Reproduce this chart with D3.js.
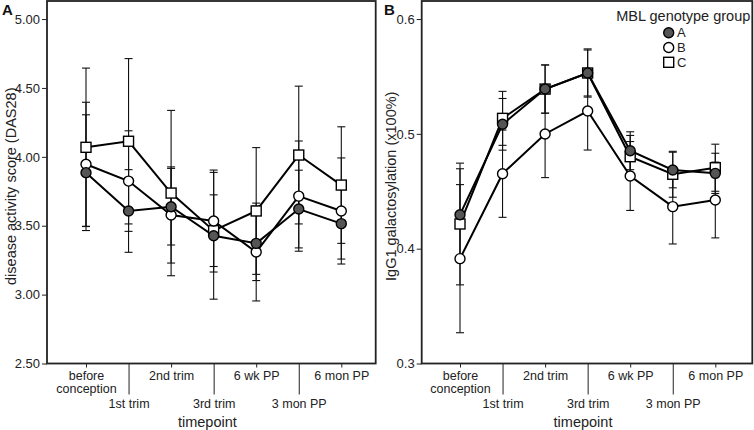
<!DOCTYPE html>
<html>
<head>
<meta charset="utf-8">
<script src="https://cdn.jsdelivr.net/npm/d3@7"></script>
<style>
  html, body { margin: 0; padding: 0; background: #fff; }
  svg { display: block; font-family: "Liberation Sans", Arial, Helvetica, sans-serif; }
</style>
</head>
<body>
<svg id="chart" width="754" height="430"></svg>
<script>
// ---- Data ----
const timepoints = ["before conception", "1st trim", "2nd trim", "3rd trim", "6 wk PP", "3 mon PP", "6 mon PP"];
const groups = ["A", "B", "C"];

// Panel A: disease activity score (DAS28)
const dasA = [3.885, 3.607, 3.638, 3.427, 3.372, 3.621, 3.515];
const dasB = [3.946, 3.824, 3.578, 3.534, 3.309, 3.715, 3.607];
const dasC = [4.069, 4.113, 3.737, 3.464, 3.607, 4.013, 3.795];
const dasErrA = [0.42, 0.30, 0.278, 0.46, 0.27, 0.282, 0.257];
const dasErrB = [0.45, 0.365, 0.349, 0.37, 0.355, 0.40, 0.385];
const dasErrC = [0.575, 0.60, 0.60, 0.26, 0.46, 0.50, 0.423];
const dasTicks = [2.5, 3.0, 3.5, 4.0, 4.5, 5.0];

// Panel B: IgG1 galactosylation
const galA = [0.4296, 0.5083, 0.5390, 0.5530, 0.4853, 0.4685, 0.4656];
const galB = [0.3913, 0.4653, 0.4999, 0.5199, 0.4633, 0.4366, 0.4424];
const galC = [0.4215, 0.5135, 0.5390, 0.5530, 0.4801, 0.4648, 0.4705];
const galErrA = [0.040, 0.0225, 0.021, 0.020, 0.0165, 0.0155, 0.0175];
const galErrB = [0.0645, 0.038, 0.038, 0.034, 0.030, 0.0325, 0.033];
const galErrC = [0.053, 0.0235, 0.021, 0.021, 0.0185, 0.020, 0.0205];
const galTicks = [0.3, 0.4, 0.5, 0.6];

// ---- Drawing ----
const svg = d3.select("#chart");
const FILL = { A: "#555555", B: "#ffffff", C: "#ffffff" };
const SHAPE = { A: "circle", B: "circle", C: "square" };

function drawMarker(g, shape, cx, cy, fill) {
  if (shape === "circle") {
    g.append("circle").attr("cx", cx).attr("cy", cy).attr("r", 5)
      .attr("fill", fill).attr("stroke", "#000").attr("stroke-width", 1.4);
  } else {
    g.append("rect").attr("x", cx - 5).attr("y", cy - 5).attr("width", 10).attr("height", 10)
      .attr("fill", fill).attr("stroke", "#000").attr("stroke-width", 1.4);
  }
}

function panel(opts) {
  const { left, right, top, bottom, padL, padR, domain, ticks, fmt, series, letter, ytitle, legend } = opts;
  const g = svg.append("g");
  const x = d3.scaleLinear().domain([0, timepoints.length - 1]).range([left + padL, right - padR]);
  const y = d3.scaleLinear().domain(domain).range([bottom, top]);

  // y axis ticks
  const yAxis = d3.axisLeft(y).tickValues(ticks).tickFormat(d3.format(fmt)).tickSize(5).tickPadding(2);
  const ya = g.append("g").attr("transform", `translate(${left},0)`).call(yAxis);
  ya.select(".domain").remove();
  ya.selectAll("text").attr("font-size", 13).attr("fill", "#222")
    .style("font-family", "'Liberation Sans', Arial, sans-serif");
  ya.selectAll("line").attr("stroke", "#222");

  // x axis
  const xAxis = d3.axisBottom(x).tickValues(d3.range(timepoints.length)).tickFormat(i => timepoints[i]).tickSize(4).tickPadding(4);
  const xa = g.append("g").attr("transform", `translate(0,${bottom})`).call(xAxis);
  xa.select(".domain").remove();
  xa.selectAll(".tick line").attr("stroke", "#222")
    .attr("y2", (d) => d % 2 === 1 ? 31 : 4);
  xa.selectAll(".tick text").each(function (d) {
    const t = d3.select(this);
    t.attr("font-size", 12.5).attr("fill", "#222").style("font-family", "'Liberation Sans', Arial, sans-serif");
    const label = timepoints[d];
    if (d % 2 === 1) {
      t.attr("y", 35.5).attr("dy", "0.71em");
    } else if (label === "before conception") {
      t.text(null).attr("y", 8).attr("dy", "0.71em");
      t.append("tspan").attr("x", 0).text("before");
      t.append("tspan").attr("x", 0).attr("dy", "1.0em").text("conception");
    } else {
      t.attr("y", 8).attr("dy", "0.71em");
    }
  });

  // x title
  g.append("text").attr("x", (left + right) / 2 - 4).attr("y", 427).attr("text-anchor", "middle")
    .attr("font-size", 14.5).attr("fill", "#222").text("timepoint");

  // y title
  g.append("text").attr("transform", `translate(${opts.ytitleX},${(top + bottom) / 2 + 4}) rotate(-90)`)
    .attr("text-anchor", "middle").attr("font-size", 14.5).attr("fill", "#222").text(ytitle);

  // error bars
  const eb = g.append("g").attr("stroke", "#111").attr("stroke-width", 1.1);
  series.forEach(s => {
    s.values.forEach((v, i) => {
      const e = s.err[i];
      const cx = x(i);
      eb.append("line").attr("x1", cx).attr("x2", cx).attr("y1", y(v - e)).attr("y2", y(v + e));
      eb.append("line").attr("x1", cx - 4).attr("x2", cx + 4).attr("y1", y(v - e)).attr("y2", y(v - e));
      eb.append("line").attr("x1", cx - 4).attr("x2", cx + 4).attr("y1", y(v + e)).attr("y2", y(v + e));
    });
  });

  // lines
  const line = d3.line().x((d, i) => x(i)).y(d => y(d));
  series.forEach(s => {
    g.append("path").attr("d", line(s.values)).attr("fill", "none")
      .attr("stroke", "#000").attr("stroke-width", 2);
  });

  // markers (C, B, A so A on top)
  ["C", "B", "A"].forEach(k => {
    const s = series.find(ss => ss.key === k);
    s.values.forEach((v, i) => drawMarker(g, SHAPE[k], x(i), y(v), FILL[k]));
  });

  // frame
  g.append("rect").attr("x", left).attr("y", top).attr("width", right - left).attr("height", bottom - top)
    .attr("fill", "none").attr("stroke", "#222").attr("stroke-width", 1.8);

  // panel letter
  g.append("text").attr("x", opts.letterX).attr("y", 15).attr("font-size", 15).attr("font-weight", "bold")
    .attr("fill", "#111").text(letter);

  if (legend) {
    g.append("text").attr("x", right - 2).attr("y", 21).attr("text-anchor", "end")
      .attr("font-size", 14.5).attr("fill", "#222").text("MBL genotype group");
    groups.forEach((k, j) => {
      const ly = 32.7 + j * 14.8;
      drawMarker(g, SHAPE[k], 668.7, ly, FILL[k]);
      g.append("text").attr("x", 677).attr("y", ly + 4.5).attr("font-size", 13).attr("fill", "#222").text(k);
    });
  }
}

panel({
  left: 47, right: 375.7, top: 1, bottom: 363.5, padL: 39, padR: 34.4,
  domain: [2.5, 5.131], ticks: dasTicks, fmt: ".2f",
  series: [
    { key: "A", values: dasA, err: dasErrA },
    { key: "B", values: dasB, err: dasErrB },
    { key: "C", values: dasC, err: dasErrC }
  ],
  letter: "A", letterX: 2, ytitle: "disease activity score (DAS28)", ytitleX: 16, legend: false
});

panel({
  left: 421.7, right: 752.3, top: 1, bottom: 363.5, padL: 38.3, padR: 37,
  domain: [0.3, 0.6157], ticks: galTicks, fmt: ".1f",
  series: [
    { key: "A", values: galA, err: galErrA },
    { key: "B", values: galB, err: galErrB },
    { key: "C", values: galC, err: galErrC }
  ],
  letter: "B", letterX: 384, ytitle: "IgG1 galactosylation (x100%)", ytitleX: 395.5, legend: true
});
</script>
</body>
</html>
